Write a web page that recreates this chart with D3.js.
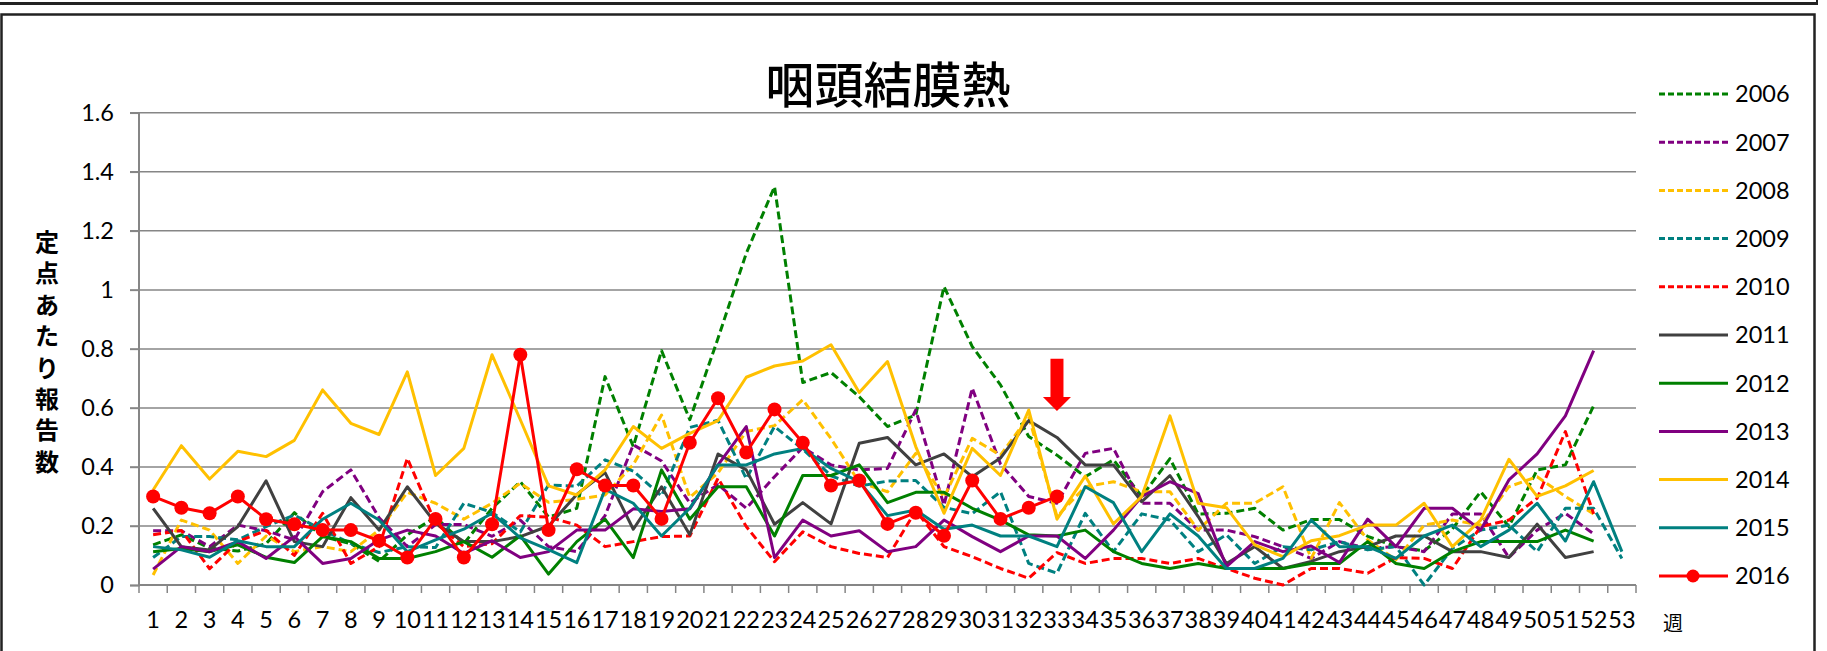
<!DOCTYPE html>
<html><head><meta charset="utf-8">
<script src="https://cdn.jsdelivr.net/npm/d3@7"></script>
<style>
body{margin:0;background:#fff;}
svg{display:block;}
</style></head>
<body>
<svg id="chart" width="1827" height="651"></svg>
<script>
const weekLabels = ["1","2","3","4","5","6","7","8","9","10","11","12","13","14","15","16","17","18","19","20","21","22","23","24","25","26","27","28","29","30","31","32","33","34","35","36","37","38","39","40","41","42","43","44","45","46","47","48","49","50","51","52","53"];
const yTicks = [0, 0.2, 0.4, 0.6, 0.8, 1, 1.2, 1.4, 1.6];
const years = ["2006","2007","2008","2009","2010","2011","2012","2013","2014","2015","2016"];
const colors = ["#008000","#800080","#FFC000","#008080","#FF0000","#404040","#008000","#800080","#FFC000","#008080","#FF0000"];
const dashed = [true,true,true,true,true,false,false,false,false,false,false];

const s2006 = [0.136,0.17,0.125,0.115,0.14,0.245,0.164,0.14,0.08,0.17,0.23,0.14,0.26,0.35,0.23,0.26,0.706,0.469,0.794,0.56,0.836,1.124,1.35,0.686,0.72,0.638,0.537,0.576,1.011,0.808,0.678,0.503,0.44,0.367,0.424,0.30,0.428,0.24,0.243,0.26,0.186,0.222,0.222,0.165,0.13,0.116,0.19,0.316,0.198,0.39,0.407,0.607];
const s2007 = [0.184,0.184,0.13,0.203,0.184,0.153,0.316,0.39,0.228,0.13,0.205,0.205,0.165,0.22,0.13,0.113,0.235,0.475,0.42,0.278,0.34,0.26,0.367,0.466,0.407,0.39,0.395,0.593,0.27,0.667,0.41,0.30,0.277,0.446,0.463,0.277,0.277,0.186,0.186,0.164,0.13,0.09,0.147,0.124,0.13,0.113,0.241,0.241,0.093,0.186,0.243,0.173];
const s2008 = [0.034,0.22,0.186,0.073,0.166,0.113,0.13,0.113,0.186,0.314,0.277,0.223,0.277,0.345,0.28,0.29,0.305,0.408,0.576,0.297,0.38,0.52,0.54,0.628,0.496,0.348,0.316,0.446,0.297,0.497,0.44,0.57,0.232,0.333,0.35,0.316,0.316,0.186,0.277,0.277,0.333,0.09,0.279,0.153,0.085,0.203,0.22,0.203,0.333,0.367,0.30,0.241];
const s2009 = [0.093,0.164,0.164,0.153,0.198,0.237,0.186,0.141,0.11,0.13,0.127,0.277,0.246,0.18,0.339,0.335,0.424,0.386,0.302,0.534,0.558,0.36,0.537,0.46,0.37,0.335,0.352,0.354,0.263,0.242,0.316,0.073,0.04,0.243,0.113,0.241,0.22,0.113,0.17,0.073,0.13,0.119,0.147,0.119,0.13,0.0,0.124,0.186,0.203,0.113,0.26,0.26,0.09];
const s2010 = [0.17,0.185,0.055,0.147,0.185,0.1,0.243,0.073,0.13,0.429,0.21,0.13,0.14,0.235,0.23,0.203,0.13,0.147,0.164,0.166,0.362,0.198,0.079,0.18,0.13,0.107,0.093,0.252,0.13,0.096,0.056,0.023,0.11,0.073,0.09,0.09,0.073,0.09,0.056,0.023,0.0,0.056,0.056,0.04,0.093,0.09,0.056,0.198,0.22,0.294,0.52,0.241];
const s2011 = [0.26,0.13,0.119,0.198,0.353,0.147,0.13,0.296,0.186,0.333,0.209,0.147,0.147,0.164,0.2,0.307,0.381,0.189,0.333,0.17,0.444,0.39,0.206,0.279,0.207,0.48,0.50,0.407,0.444,0.367,0.43,0.557,0.50,0.407,0.407,0.282,0.371,0.232,0.073,0.13,0.056,0.08,0.113,0.13,0.166,0.166,0.113,0.113,0.093,0.206,0.093,0.113];
const s2012 = [0.113,0.124,0.113,0.136,0.094,0.076,0.164,0.147,0.09,0.09,0.113,0.147,0.094,0.167,0.037,0.147,0.223,0.093,0.39,0.223,0.333,0.333,0.166,0.371,0.371,0.407,0.279,0.314,0.314,0.26,0.22,0.17,0.166,0.186,0.113,0.073,0.056,0.073,0.056,0.056,0.056,0.073,0.073,0.147,0.073,0.056,0.113,0.147,0.147,0.147,0.186,0.149];
const s2013 = [0.054,0.13,0.113,0.147,0.09,0.164,0.073,0.09,0.153,0.186,0.166,0.107,0.15,0.093,0.113,0.186,0.186,0.258,0.249,0.258,0.407,0.537,0.093,0.22,0.166,0.184,0.113,0.13,0.22,0.164,0.113,0.166,0.166,0.09,0.186,0.30,0.35,0.31,0.062,0.147,0.113,0.132,0.076,0.223,0.13,0.26,0.26,0.186,0.356,0.444,0.573,0.794];
const s2014 = [0.322,0.472,0.359,0.453,0.435,0.49,0.661,0.548,0.51,0.722,0.371,0.463,0.78,0.56,0.336,0.305,0.39,0.537,0.463,0.514,0.557,0.704,0.742,0.759,0.814,0.652,0.757,0.469,0.243,0.463,0.371,0.593,0.223,0.369,0.207,0.30,0.573,0.277,0.262,0.136,0.096,0.15,0.167,0.203,0.203,0.277,0.13,0.22,0.426,0.30,0.336,0.388];
const s2015 = [0.13,0.119,0.094,0.15,0.13,0.13,0.223,0.277,0.22,0.113,0.153,0.189,0.243,0.16,0.12,0.076,0.324,0.277,0.166,0.26,0.407,0.407,0.444,0.463,0.395,0.35,0.235,0.254,0.189,0.203,0.166,0.166,0.13,0.333,0.279,0.113,0.241,0.166,0.056,0.056,0.09,0.22,0.13,0.13,0.09,0.166,0.203,0.13,0.186,0.277,0.149,0.35,0.113];
const s2016 = [0.30,0.262,0.243,0.30,0.223,0.206,0.186,0.186,0.15,0.093,0.224,0.093,0.206,0.78,0.186,0.392,0.337,0.337,0.224,0.482,0.633,0.449,0.595,0.482,0.337,0.354,0.207,0.245,0.167,0.354,0.224,0.262,0.30];
const seriesValues = [s2006,s2007,s2008,s2009,s2010,s2011,s2012,s2013,s2014,s2015,s2016];
const currentWeek = "33";
const titleText = "咽頭結膜熱";
const yAxisTitle = "定点あたり報告数";
const xAxisTitle = "週";

const svg = d3.select("#chart");
const NUM = "Lato, 'Liberation Sans', sans-serif";
const CJK = "'Noto Sans CJK JP', sans-serif";

// frames
svg.append("line").attr("x1",0).attr("x2",1818).attr("y1",3.5).attr("y2",3.5).attr("stroke","#222").attr("stroke-width",3);
svg.append("line").attr("x1",1817).attr("x2",1817).attr("y1",0).attr("y2",5).attr("stroke","#222").attr("stroke-width",2);
svg.append("rect").attr("x",1.5).attr("y",14.5).attr("width",1813).attr("height",700)
  .attr("fill","none").attr("stroke","#222").attr("stroke-width",2.5);

const x = d3.scaleBand().domain(weekLabels).range([139, 1636]).paddingInner(0).paddingOuter(0);
const y = d3.scaleLinear().domain([0, 1.6]).range([585, 112.8]);
const cx = w => x(w) + x.bandwidth()/2;

// gridlines
svg.append("g").selectAll("line").data(yTicks.filter(d=>d>0)).join("line")
  .attr("x1",130).attr("x2",1636).attr("y1",d=>y(d)).attr("y2",d=>y(d))
  .attr("stroke","#868686").attr("stroke-width",1.5);

// y axis
const ya = svg.append("g").attr("transform","translate(139,0)")
  .call(d3.axisLeft(y).tickValues(yTicks).tickSize(9).tickPadding(16).tickFormat(d=>String(+d.toFixed(1))));
ya.select(".domain").attr("stroke","#868686").attr("stroke-width",2).attr("d","M-9,585.5H0V112.8");
ya.selectAll(".tick line").attr("stroke","#868686").attr("stroke-width",1.5);
ya.selectAll("text").attr("font-family",NUM).attr("font-size",23.5).attr("fill","#000");

// x axis
const xa = svg.append("g").attr("transform","translate(0,585)")
  .call(d3.axisBottom(x).tickSize(0).tickPadding(26));
xa.select(".domain").attr("stroke","#868686").attr("stroke-width",2).attr("d","M139,0H1636");
xa.selectAll("text").attr("font-family",NUM).attr("font-size",23.5).attr("fill","#000");
const bounds = weekLabels.map(w=>x(w)).concat([x.range()[1]]);
svg.append("g").selectAll("line").data(bounds).join("line")
  .attr("x1",d=>d).attr("x2",d=>d).attr("y1",585).attr("y2",593)
  .attr("stroke","#868686").attr("stroke-width",1.5);

// lines
const line = d3.line().x((d,i)=>cx(weekLabels[i])).y(d=>y(d));
seriesValues.forEach((vals,k)=>{
  svg.append("path").datum(vals).attr("d",line).attr("fill","none")
    .attr("stroke",colors[k]).attr("stroke-width",3).attr("stroke-linejoin","round")
    .attr("stroke-dasharray",dashed[k]?"8,4":null);
});
svg.append("g").selectAll("circle").data(s2016).join("circle")
  .attr("cx",(d,i)=>cx(weekLabels[i])).attr("cy",d=>y(d)).attr("r",7).attr("fill","#FF0000");

// arrow at current week
const ax = cx(currentWeek);
svg.append("path")
  .attr("d",`M${ax-6.5},${y(0.767)}H${ax+6.5}V${y(0.637)}H${ax+14}L${ax},${y(0.59)}L${ax-14},${y(0.637)}H${ax-6.5}Z`)
  .attr("fill","#FF0000");

// title
svg.append("text").attr("x",888).attr("y",103).attr("text-anchor","middle")
  .attr("font-family",CJK).attr("font-size",49).attr("font-weight",500).attr("fill","#000").text(titleText);

// y axis title (vertical stacked)
const yt = svg.append("text").attr("font-family",CJK).attr("font-size",24).attr("font-weight","bold").attr("fill","#000").attr("text-anchor","middle");
Array.from(yAxisTitle).forEach((ch,i)=>{
  yt.append("tspan").attr("x",47).attr("y",251+i*31.4).text(ch);
});

// x axis title
svg.append("text").attr("x",1673).attr("y",631).attr("text-anchor","middle")
  .attr("font-family",CJK).attr("font-size",20).attr("fill","#000").text(xAxisTitle);

// legend
const lg = svg.append("g");
years.forEach((yr,k)=>{
  const ly = 94 + k*48.2;
  lg.append("line").attr("x1",1659).attr("x2",1728).attr("y1",ly).attr("y2",ly)
    .attr("stroke",colors[k]).attr("stroke-width",3).attr("stroke-dasharray",dashed[k]?"6,3":null);
  if (k===10) lg.append("circle").attr("cx",1693).attr("cy",ly).attr("r",6.5).attr("fill","#FF0000");
  lg.append("text").attr("x",1735).attr("y",ly).attr("dy","0.36em")
    .attr("font-family",NUM).attr("font-size",23.5).attr("fill","#000").text(yr);
});
</script>
</body></html>
